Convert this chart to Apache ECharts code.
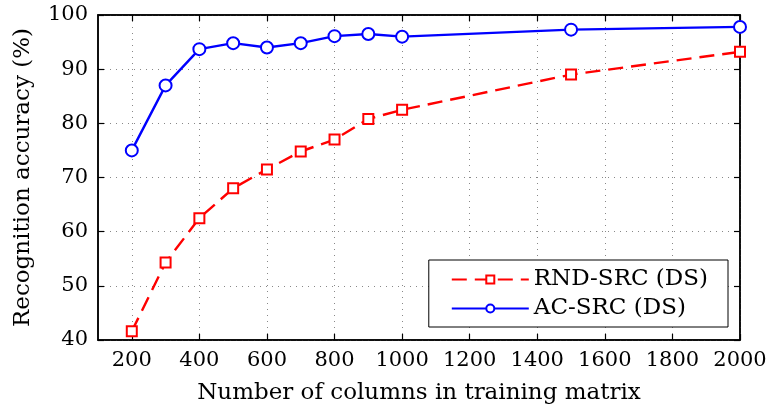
<!DOCTYPE html>
<html>
<head>
<meta charset="utf-8">
<script src="https://cdn.jsdelivr.net/npm/echarts@6/dist/echarts.min.js"></script>
<style>html,body{margin:0;padding:0;background:#fff}#c{width:768px;height:408px}</style>
</head>
<body>
<div id="c"></div>
<script>
var columns = [200, 300, 400, 500, 600, 700, 800, 900, 1000, 1500, 2000];
var rndSrc = [41.6, 54.3, 62.5, 68.0, 71.5, 74.8, 77.0, 80.8, 82.5, 89.0, 93.2];
var acSrc = [75.0, 87.0, 93.7, 94.8, 94.0, 94.8, 96.1, 96.5, 96.0, 97.3, 97.8];
var xTicks = [200, 400, 600, 800, 1000, 1200, 1400, 1600, 1800, 2000];
var seriesNames = ['RND-SRC (DS)', 'AC-SRC (DS)'];

var FONT = 'DejaVu Serif';
var FS = 21;
var FT = 23;
var chart = echarts.init(document.getElementById('c'));
function pairs(xs, ys) { return xs.map(function (x, i) { return [x, ys[i]]; }); }
var tickStyle = { show: true, inside: true, length: 6, lineStyle: { color: '#000', width: 1.2 } };
var gridLine = { show: true, lineStyle: { color: '#888', type: [1, 5], width: 1 } };
chart.setOption({
  animation: false,
  textStyle: { fontFamily: FONT },
  grid: { left: 98, right: 28, top: 15, bottom: 68, outerBoundsMode: 'none', containLabel: false,
    show: true, borderColor: '#000', borderWidth: 1.5 },
  legend: {
    right: 40, bottom: 81, orient: 'vertical',
    data: seriesNames,
    backgroundColor: '#fff', borderColor: '#000', borderWidth: 1,
    padding: [8, 20, 7, 22], itemGap: 6, itemWidth: 77, itemHeight: 10,
    textStyle: { fontFamily: FONT, fontSize: FT, color: '#000' }
  },
  xAxis: [{
    type: 'value', min: 100, max: 2000, interval: 100, position: 'bottom',
    name: 'Number of columns in training matrix', nameLocation: 'middle', nameGap: 42,
    nameTextStyle: { fontFamily: FONT, fontSize: FT, color: '#000' },
    axisLine: { show: true, lineStyle: { color: '#000', width: 1.5 } },
    axisTick: Object.assign({ customValues: xTicks }, tickStyle),
    axisLabel: { customValues: xTicks, formatter: function (v) { return String(v); },
      fontFamily: FONT, fontSize: FS, color: '#000', margin: 10 },
    splitLine: gridLine
  }, {
    type: 'value', min: 100, max: 2000, interval: 100, position: 'top',
    axisLine: { show: true, lineStyle: { color: '#000', width: 1.5 } },
    axisTick: Object.assign({ customValues: xTicks }, tickStyle),
    axisLabel: { show: false }, splitLine: { show: false }
  }],
  yAxis: [{
    type: 'value', min: 40, max: 100, interval: 10, position: 'left',
    name: 'Recognition accuracy (%)', nameLocation: 'middle', nameGap: 63,
    nameTextStyle: { fontFamily: FONT, fontSize: FT, color: '#000' },
    axisLine: { show: true, lineStyle: { color: '#000', width: 1.5 } },
    axisTick: tickStyle,
    axisLabel: { fontFamily: FONT, fontSize: FS, color: '#000', margin: 10 },
    splitLine: gridLine
  }, {
    type: 'value', min: 40, max: 100, interval: 10, position: 'right',
    axisLine: { show: true, lineStyle: { color: '#000', width: 1.5 } },
    axisTick: tickStyle, axisLabel: { show: false }, splitLine: { show: false }
  }],
  series: [{
    name: seriesNames[0], type: 'line', data: pairs(columns, rndSrc),
    symbol: 'rect', symbolSize: 10,
    lineStyle: { color: '#ff0000', width: 2.4, type: [15, 8] },
    itemStyle: { color: '#fff', borderColor: '#ff0000', borderWidth: 2 }
  }, {
    name: seriesNames[1], type: 'line', data: pairs(columns, acSrc),
    symbol: 'emptyCircle', symbolSize: 12,
    lineStyle: { color: '#0000ff', width: 2.4 },
    itemStyle: { color: '#0000ff', borderColor: '#0000ff', borderWidth: 2.2 }
  }]
});
</script>
</body>
</html>
